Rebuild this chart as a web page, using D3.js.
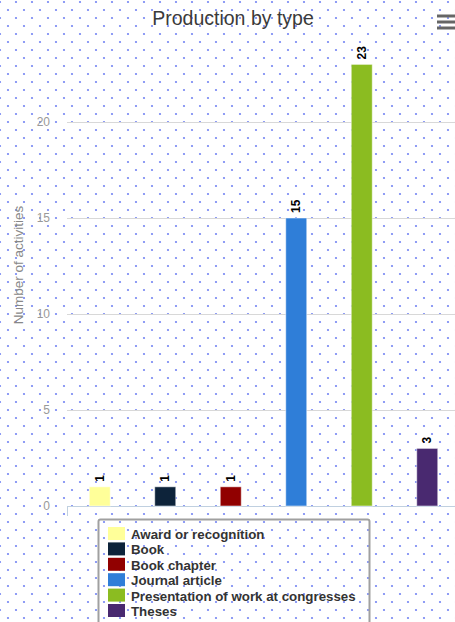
<!DOCTYPE html>
<html>
<head>
<meta charset="utf-8">
<script src="https://cdn.jsdelivr.net/npm/d3@7"></script>
<style>
  body { margin: 0; background: #fff; }
  svg { display: block; font-family: "Liberation Sans", Arial, sans-serif; }
</style>
</head>
<body>
<svg id="chart" width="455" height="622"></svg>
<script>
var categories = ["Award or recognition", "Book", "Book chapter", "Journal article", "Presentation of work at congresses", "Theses"];
var counts = [1, 1, 1, 15, 23, 3];
var colors = ["#ffff99", "#0d233a", "#910000", "#2f7ed8", "#8bbc21", "#492970"];
var y_ticks = [0, 5, 10, 15, 20];

var svg = d3.select("#chart");

// dotted background
var pattern = svg.append("defs").append("pattern")
	.attr("id", "dots")
	.attr("patternUnits", "userSpaceOnUse")
	.attr("width", 16)
	.attr("height", 16);
[[0, 2], [16, 2], [8, 10]].forEach(function (p) {
	pattern.append("circle")
		.attr("cx", p[0]).attr("cy", p[1]).attr("r", 1.1)
		.attr("fill", "#5b6ff0").attr("opacity", 0.85);
});
svg.append("rect").attr("width", 455).attr("height", 622).attr("fill", "url(#dots)");

var x = d3.scaleBand().domain(categories).range([67, 460]).paddingInner(0);
var y = d3.scaleLinear().domain([0, 20]).range([506, 122]);

// grid
svg.append("g").selectAll("line")
	.data(y_ticks.filter(function (d) { return d > 0; }))
	.join("line")
	.attr("x1", 67).attr("x2", 455)
	.attr("y1", function (d) { return y(d) + 0.5; })
	.attr("y2", function (d) { return y(d) + 0.5; })
	.attr("stroke", "#d8d8d8");

// tick labels
svg.append("g").selectAll("text")
	.data(y_ticks)
	.join("text")
	.attr("x", 50)
	.attr("y", function (d) { return y(d) + 4; })
	.attr("text-anchor", "end")
	.attr("font-size", 12)
	.attr("fill", "#999")
	.text(function (d) { return d; });

svg.append("text")
	.attr("transform", "translate(23,265) rotate(-90)")
	.attr("text-anchor", "middle")
	.attr("font-size", 13.5)
	.attr("fill", "#888")
	.text("Number of activities");

// x axis line
svg.append("line")
	.attr("x1", 67).attr("x2", 455)
	.attr("y1", 506.5).attr("y2", 506.5)
	.attr("stroke", "#c0d0e0");
svg.append("line")
	.attr("x1", 67.5).attr("x2", 67.5)
	.attr("y1", 506).attr("y2", 516)
	.attr("stroke", "#c0d0e0");

// bars
var bar_w = 21;
svg.append("g").selectAll("rect")
	.data(counts)
	.join("rect")
	.attr("x", function (d, i) { return x(categories[i]) + x.bandwidth() / 2 - bar_w / 2; })
	.attr("y", function (d) { return y(d); })
	.attr("width", bar_w)
	.attr("height", function (d) { return y(0) - y(d); })
	.attr("fill", function (d, i) { return colors[i]; })
	.attr("stroke", "#ffffff")
	.attr("stroke-opacity", 0.5)
	.attr("stroke-width", 1);

// data labels
svg.append("g").selectAll("text")
	.data(counts)
	.join("text")
	.attr("transform", function (d, i) {
		var cx = x(categories[i]) + x.bandwidth() / 2 + 4;
		return "translate(" + cx + "," + (y(d) - 5) + ") rotate(-90)";
	})
	.attr("font-size", 12)
	.attr("font-weight", "bold")
	.attr("fill", "#000")
	.text(function (d) { return d; });

// title
svg.append("text")
	.attr("x", 233).attr("y", 25)
	.attr("text-anchor", "middle")
	.attr("font-size", 19.5)
	.attr("fill", "#3a3a3a")
	.text("Production by type");

// menu icon
svg.append("g").selectAll("line")
	.data([16, 22, 28])
	.join("line")
	.attr("x1", 437).attr("x2", 456)
	.attr("y1", function (d) { return d; })
	.attr("y2", function (d) { return d; })
	.attr("stroke", "#666")
	.attr("stroke-width", 3);

// legend
var legend = svg.append("g");
legend.append("rect")
	.attr("x", 98.5).attr("y", 519.5)
	.attr("width", 271).attr("height", 120)
	.attr("rx", 2)
	.attr("fill", "none")
	.attr("stroke", "#a0a0a0")
	.attr("stroke-width", 2);

var item = legend.selectAll("g.item")
	.data(categories)
	.join("g")
	.attr("class", "item")
	.attr("transform", function (d, i) { return "translate(0," + (527 + i * 15.4) + ")"; });
item.append("rect")
	.attr("x", 108).attr("y", 0)
	.attr("width", 17).attr("height", 13)
	.attr("fill", function (d, i) { return colors[i]; });
item.append("text")
	.attr("x", 131).attr("y", 12)
	.attr("font-size", 13.3)
	.attr("font-weight", "bold")
	.attr("fill", "#333")
	.text(function (d) { return d; });
</script>
</body>
</html>
